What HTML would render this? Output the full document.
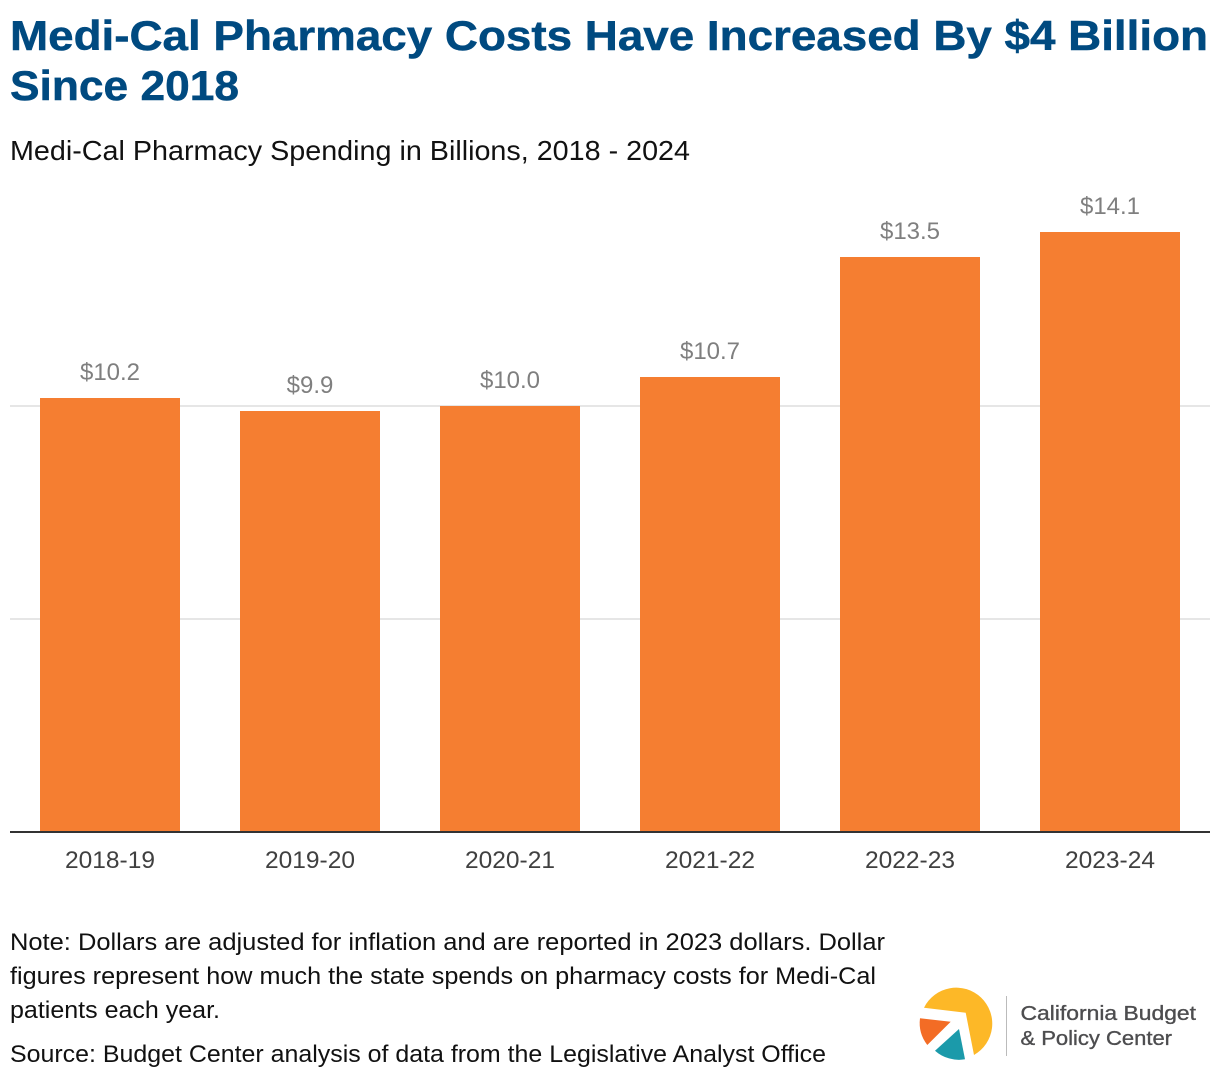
<!DOCTYPE html>
<html lang="en">
<head>
<meta charset="utf-8">
<title>Medi-Cal Pharmacy Costs</title>
<style>
html,body{margin:0;padding:0;background:#fff;width:1220px;height:1080px;overflow:hidden}
svg{display:block}
text{font-family:"Liberation Sans",Arial,sans-serif}
</style>
</head>
<body>
<svg id="chart" width="1220" height="1080" viewBox="0 0 1220 1080" xmlns="http://www.w3.org/2000/svg">
  <g>
    <text x="10" y="50" font-size="42" font-weight="700" fill="#004a80" stroke="#004a80" stroke-width="0.5" textLength="1198" lengthAdjust="spacingAndGlyphs">Medi-Cal Pharmacy Costs Have Increased By $4 Billion</text>
    <text x="10" y="100" font-size="42" font-weight="700" fill="#004a80" stroke="#004a80" stroke-width="0.5" textLength="229" lengthAdjust="spacingAndGlyphs">Since 2018</text>
    <text x="10" y="160" font-size="28" fill="#111111" textLength="680" lengthAdjust="spacingAndGlyphs">Medi-Cal Pharmacy Spending in Billions, 2018 - 2024</text>
  </g>
  <g id="grid"></g>
  <g id="bars"></g>
  <g id="values"></g>
  <g id="axis"></g>
  <g>
    <text x="10" y="950" font-size="24" fill="#111111" textLength="875" lengthAdjust="spacingAndGlyphs">Note: Dollars are adjusted for inflation and are reported in 2023 dollars. Dollar</text>
    <text x="10" y="984" font-size="24" fill="#111111" textLength="866" lengthAdjust="spacingAndGlyphs">figures represent how much the state spends on pharmacy costs for Medi-Cal</text>
    <text x="10" y="1018" font-size="24" fill="#111111" textLength="210" lengthAdjust="spacingAndGlyphs">patients each year.</text>
    <text x="10" y="1062" font-size="24" fill="#111111" textLength="816" lengthAdjust="spacingAndGlyphs">Source: Budget Center analysis of data from the Legislative Analyst Office</text>
  </g>
  <g>
    <path d="M924 1007.7 A36 36 0 1 1 974 1055 L965.7 1012.7 Z" fill="#fdb827"/>
    <path d="M920 1018.3 L950.7 1021.7 L927.3 1045 A36 36 0 0 1 920 1018.3 Z" fill="#f36c25"/>
    <path d="M959 1029 L965 1059.3 A36 36 0 0 1 935 1050.7 Z" fill="#1b9aaa"/>
    <rect x="1006" y="996" width="1" height="60" fill="#bbbbbb"/>
    <text x="1020.5" y="1020" font-size="20" fill="#4d4d4f" stroke="#4d4d4f" stroke-width="0.35" textLength="175.5" lengthAdjust="spacingAndGlyphs">California Budget</text>
    <text x="1020.5" y="1045" font-size="20" fill="#4d4d4f" stroke="#4d4d4f" stroke-width="0.35" textLength="151.5" lengthAdjust="spacingAndGlyphs">&amp; Policy Center</text>
  </g>
</svg>
<script>
const categories = ['2018-19', '2019-20', '2020-21', '2021-22', '2022-23', '2023-24'];
const spending = [10.2, 9.9, 10.0, 10.7, 13.5, 14.1];
const gridValues = [5, 10];

const NS = 'http://www.w3.org/2000/svg';
const plotLeft = 10, plotRight = 1210, baseY = 832, pxPerUnit = 42.56;
const bandWidth = (plotRight - plotLeft) / categories.length;
const barWidth = bandWidth * 0.7;

function yScale(v) { return Math.round(baseY - v * pxPerUnit); }
function xBand(i) { return plotLeft + i * bandWidth; }
function xCenter(i) { return xBand(i) + bandWidth / 2; }
function make(tag, attrs, parent, content) {
  const el = document.createElementNS(NS, tag);
  for (const k in attrs) el.setAttribute(k, attrs[k]);
  if (content !== undefined) el.textContent = content;
  parent.appendChild(el);
  return el;
}

const gridG = document.getElementById('grid');
const barsG = document.getElementById('bars');
const valuesG = document.getElementById('values');
const axisG = document.getElementById('axis');

gridValues.forEach(function (v) {
  const line = make('line', { x1: plotLeft, x2: plotRight, y1: yScale(v), y2: yScale(v), stroke: '#e6e6e6', 'stroke-width': 2 }, gridG);
  
  
});

spending.forEach(function (v, i) {
  const bar = make('rect', { x: xCenter(i) - barWidth / 2, y: yScale(v), width: barWidth, height: baseY - yScale(v), fill: '#f57e31' }, barsG);
  
  
  const label = make('text', { x: xCenter(i), y: yScale(v) - 18, 'text-anchor': 'middle', 'font-size': 24, fill: '#7f7f7f' }, valuesG, '$' + v.toFixed(1));
  
  
});

const axisLine = make('line', { x1: plotLeft, x2: plotRight, y1: baseY, y2: baseY, stroke: '#333333', 'stroke-width': 2 }, axisG);



categories.forEach(function (c, i) {
  const tick = make('text', { x: xCenter(i), y: 868, 'text-anchor': 'middle', 'font-size': 24.5, fill: '#404040' }, axisG, c);
  
  
});
</script>
</body>
</html>
